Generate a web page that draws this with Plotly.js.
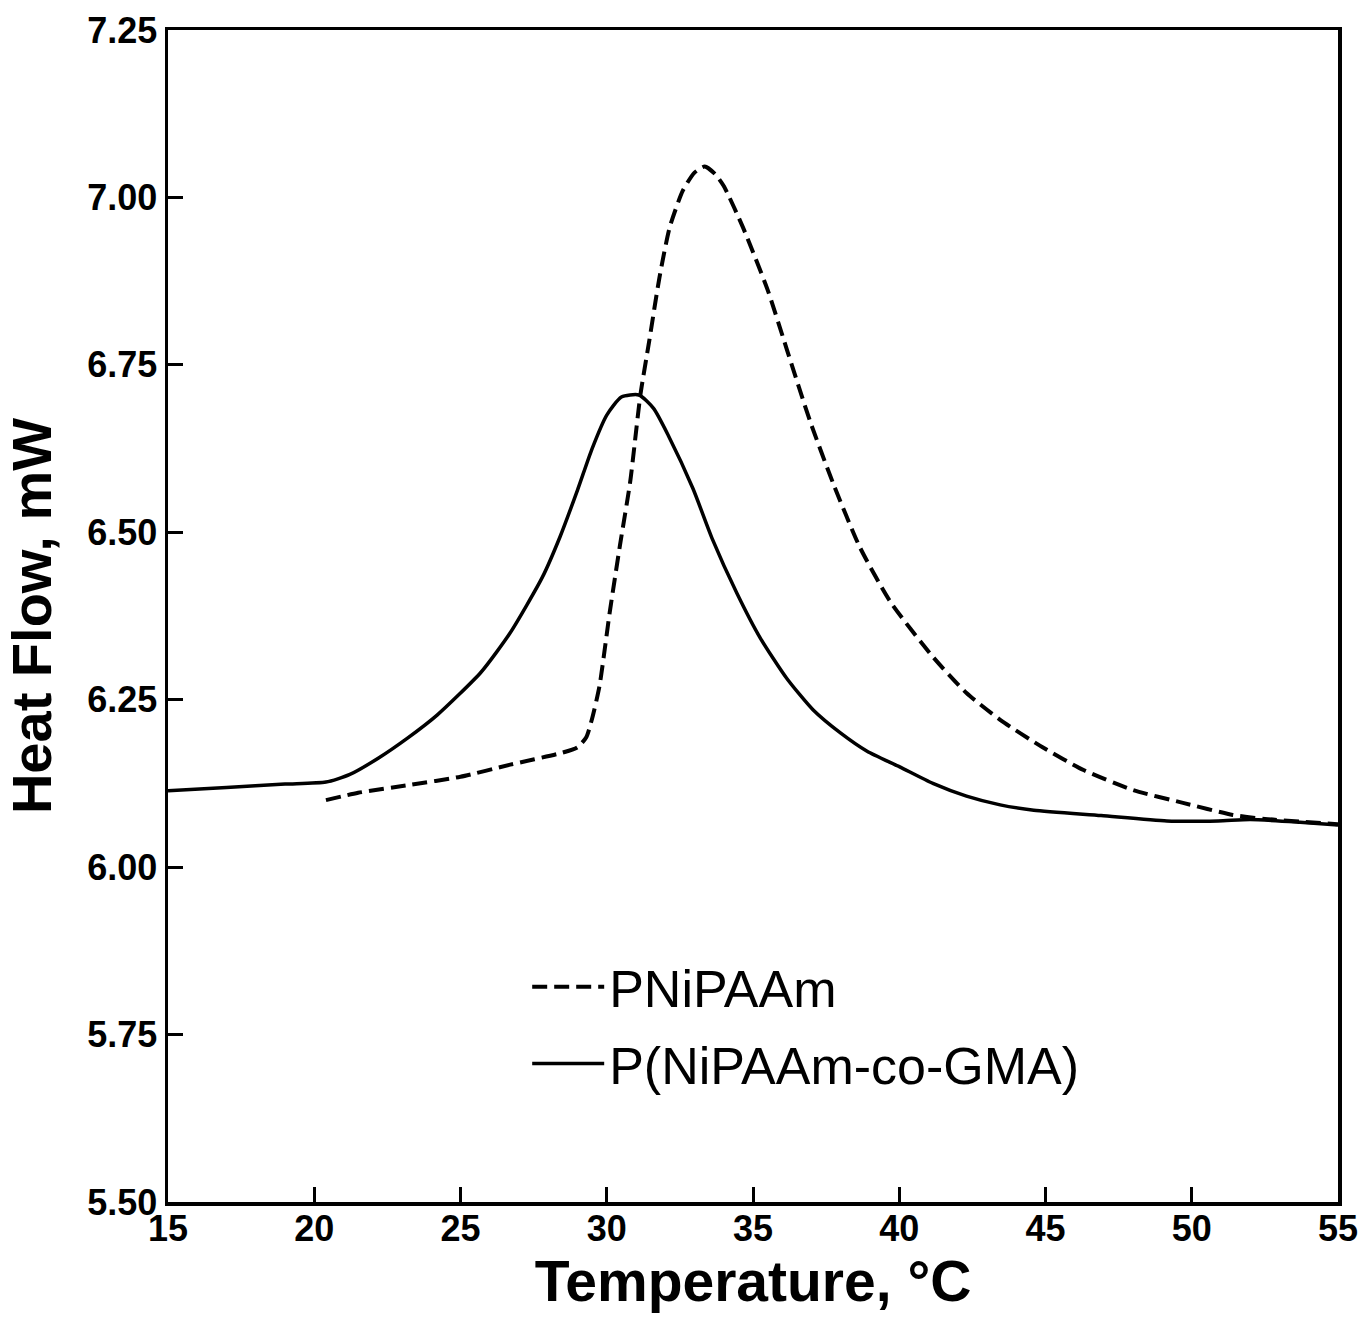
<!DOCTYPE html>
<html>
<head>
<meta charset="utf-8">
<script src="https://cdn.plot.ly/plotly-3.0.1.min.js"></script>
<style>html,body{margin:0;padding:0;background:#fff;}#chart{width:1363px;height:1332px;}</style>
</head>
<body>
<div id="chart"></div>
<script>
// PNiPAAm (dashed)
const pnipaamT = [20.4, 21.5, 23.3, 25.0, 26.7, 28.4, 29.0, 29.3, 29.5, 29.75, 30.1, 30.45, 30.8, 31.15, 31.45, 31.8, 32.15, 32.6, 33.0, 33.35, 33.7, 34.0, 34.65, 35.5, 36.15, 36.95, 37.75, 38.65, 39.7, 41.15, 42.3, 43.45, 44.9, 46.3, 48.0, 49.7, 51.4, 52.5, 55.0];
const pnipaamHF = [6.100, 6.111, 6.123, 6.135, 6.153, 6.170, 6.179, 6.194, 6.222, 6.270, 6.380, 6.480, 6.575, 6.705, 6.785, 6.880, 6.955, 7.010, 7.037, 7.046, 7.035, 7.017, 6.956, 6.862, 6.774, 6.666, 6.572, 6.478, 6.396, 6.314, 6.260, 6.220, 6.179, 6.145, 6.115, 6.096, 6.078, 6.072, 6.064];

// P(NiPAAm-co-GMA) (solid)
const copolyT = [15.0, 17.0, 19.0, 20.4, 21.2, 22.2, 23.2, 24.2, 25.7, 26.7, 27.8, 28.4, 29.0, 29.5, 30.0, 30.5, 31.1, 31.6, 32.1, 32.95, 33.6, 34.45, 35.25, 36.15, 37.05, 38.0, 38.9, 40.0, 41.15, 42.3, 43.45, 44.6, 46.9, 49.15, 50.9, 52.0, 53.7, 55.0];
const copolyHF = [6.114, 6.119, 6.124, 6.127, 6.138, 6.163, 6.193, 6.227, 6.291, 6.350, 6.433, 6.493, 6.563, 6.625, 6.675, 6.702, 6.705, 6.685, 6.645, 6.565, 6.491, 6.409, 6.342, 6.282, 6.235, 6.200, 6.173, 6.150, 6.125, 6.106, 6.093, 6.085, 6.077, 6.069, 6.069, 6.071, 6.067, 6.063];

const xTicks = [15, 20, 25, 30, 35, 40, 45, 50, 55];
const yTicks = [5.50, 5.75, 6.00, 6.25, 6.50, 6.75, 7.00, 7.25];
const yTickText = ['5.50', '5.75', '6.00', '6.25', '6.50', '6.75', '7.00', '7.25'];

const FONT = 'Liberation Sans, Arial, sans-serif';

const traces = [
  {x: pnipaamT, y: pnipaamHF, name: 'PNiPAAm', legendgroup: 'a', mode: 'lines', line: {color: '#000', width: 4, dash: '15px,7px', shape: 'spline', smoothing: 0.6}},
  {x: copolyT, y: copolyHF, name: 'P(NiPAAm-co-GMA)', legendgroup: 'b', mode: 'lines', line: {color: '#000', width: 3.5, shape: 'spline', smoothing: 0.6}}
];

const layout = {
  width: 1363, height: 1332,
  margin: {l: 168, r: 25, t: 30, b: 130},
  paper_bgcolor: '#fff', plot_bgcolor: '#fff',
  showlegend: true,
  legend: {x: 0.307, y: 0.218, xanchor: 'left', yanchor: 'top', bgcolor: 'rgba(0,0,0,0)',
           font: {family: FONT, size: 52, color: '#000'}, itemwidth: 72, tracegroupgap: 6},
  xaxis: {
    range: [15, 55], tickvals: xTicks, ticktext: xTicks.map(String),
    ticks: 'inside', ticklen: 15, tickwidth: 3, tickcolor: '#000',
    showline: true, linewidth: 3.5, linecolor: '#000', mirror: true,
    showgrid: false, zeroline: false,
    tickfont: {family: FONT, size: 36, weight: 'bold', color: '#000'},
    ticklabelstandoff: -8,
    title: {text: 'Temperature, °C', font: {family: FONT, size: 57, weight: 'bold', color: '#000'}, standoff: 2}
  },
  yaxis: {
    range: [5.5, 7.25], tickvals: yTicks, ticktext: yTickText,
    ticks: 'inside', ticklen: 15, tickwidth: 3, tickcolor: '#000',
    showline: true, linewidth: 3.5, linecolor: '#000', mirror: true,
    showgrid: false, zeroline: false,
    tickfont: {family: FONT, size: 36, weight: 'bold', color: '#000'},
    title: {text: 'Heat Flow, mW', font: {family: FONT, size: 56, weight: 'bold', color: '#000'}, standoff: 20}
  }
};

Plotly.newPlot('chart', traces, layout, {displayModeBar: false, staticPlot: true});
</script>
</body>
</html>
